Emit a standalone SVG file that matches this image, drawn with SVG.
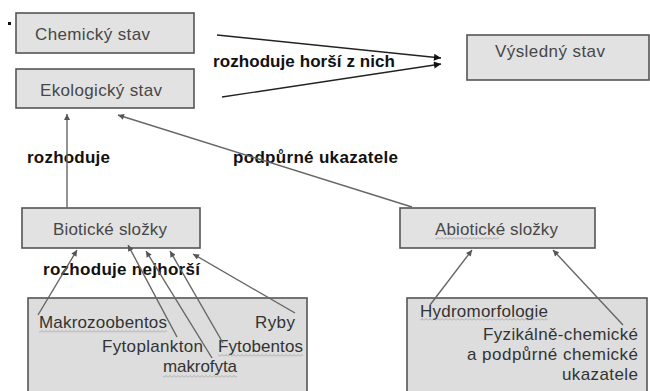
<svg xmlns="http://www.w3.org/2000/svg" width="650" height="391" viewBox="0 0 650 391">
<style>
.box{fill:#e2e2e2;stroke:#555;stroke-width:1.6}
.big{fill:#dddddd;stroke:#555;stroke-width:1.6}
.lbl{font-family:"Liberation Sans",Arial,sans-serif;font-size:17px;fill:#474747}
.txt{font-family:"Liberation Sans",Arial,sans-serif;font-size:17px;fill:#333}
.bold{font-family:"Liberation Sans",Arial,sans-serif;font-size:17px;font-weight:bold;fill:#111}
.con{stroke:#666;stroke-width:1.4;fill:none;marker-end:url(#ah)}
.dark{stroke:#222;stroke-width:1.4;fill:none;marker-end:url(#ah2)}
.sq{fill:url(#sq)}
</style>
<defs>
<marker id="ah" viewBox="0 0 10 10" refX="10" refY="5" markerWidth="8" markerHeight="6" markerUnits="userSpaceOnUse" orient="auto"><path d="M0,0 L10,5 L0,10 z" fill="#555"/></marker>
<marker id="ah2" viewBox="0 0 10 10" refX="10" refY="5" markerWidth="8" markerHeight="7" markerUnits="userSpaceOnUse" orient="auto"><path d="M0,0 L10,5 L0,10 z" fill="#111"/></marker>
<pattern id="sq" width="4" height="3" patternUnits="userSpaceOnUse"><path d="M0,2.5 L2,0.5 L4,2.5" stroke="#9a9a9a" stroke-width="0.8" fill="none"/></pattern>
</defs>
<rect x="8" y="22" width="3" height="3" fill="#111"/>
<g id="chemicky">
<rect class="box" x="16" y="13" width="178" height="40"/>
<text class="lbl" x="35" y="40" textLength="115">Chemický stav</text>
</g>
<g id="ekologicky">
<rect class="box" x="16" y="69" width="178" height="39"/>
<text class="lbl" x="40" y="96" textLength="122">Ekologický stav</text>
</g>
<g id="vysledny">
<rect class="box" x="467" y="35" width="182" height="45"/>
<text class="lbl" x="495" y="57" textLength="110">Výsledný stav</text>
</g>
<g id="bioticke">
<rect class="box" x="22" y="208" width="178" height="40"/>
<text class="lbl" x="53" y="235" textLength="114">Biotické složky</text>
</g>
<g id="abioticke">
<rect class="box" x="400" y="208" width="195" height="40"/>
<text class="lbl" x="435" y="235" textLength="123">Abiotické složky</text>
<rect class="sq" x="435" y="237" width="64" height="3"/>
</g>
<g id="labels">
<text class="bold" x="213" y="67" textLength="182">rozhoduje horší z nich</text>
<text class="bold" x="27" y="163" textLength="83">rozhoduje</text>
<text class="bold" x="233" y="163" textLength="165">podpůrné ukazatele</text>
<text class="bold" x="43" y="275" textLength="157">rozhoduje nejhorší</text>
</g>
<g id="biotic-parts">
<rect class="big" x="28" y="298" width="279" height="110"/>
<text class="txt" x="39" y="328" textLength="128">Makrozoobentos</text>
<rect class="sq" x="39" y="330" width="128" height="3"/>
<text class="txt" x="255" y="328" textLength="40">Ryby</text>
<text class="txt" x="102" y="352" textLength="101">Fytoplankton</text>
<text class="txt" x="218" y="352" textLength="85">Fytobentos</text>
<rect class="sq" x="218" y="354" width="85" height="3"/>
<text class="txt" x="163" y="372" textLength="74">makrofyta</text>
<rect class="sq" x="163" y="375" width="74" height="3"/>
</g>
<g id="abiotic-parts">
<rect class="big" x="407" y="298" width="240" height="110"/>
<text class="txt" x="420" y="317" textLength="128">Hydromorfologie</text>
<rect class="sq" x="420" y="318" width="128" height="3"/>
<text class="txt" x="483" y="340" textLength="155">Fyzikálně-chemické</text>
<text class="txt" x="467" y="360" textLength="171">a podpůrné chemické</text>
<text class="txt" x="562" y="380" textLength="76">ukazatele</text>
</g>
<g id="connectors">
<line class="dark" x1="217" y1="35" x2="441" y2="58"/>
<line class="dark" x1="222" y1="97" x2="441" y2="64"/>
<line class="con" x1="67" y1="208" x2="67" y2="114"/>
<line class="con" x1="412" y1="207" x2="118" y2="115"/>
<line class="con" x1="38" y1="315" x2="77" y2="250"/>
<line class="con" x1="177" y1="337" x2="128" y2="245"/>
<line class="con" x1="212" y1="358" x2="146" y2="251"/>
<line class="con" x1="223" y1="343" x2="170" y2="251"/>
<line class="con" x1="295" y1="313" x2="193" y2="254"/>
<line class="con" x1="430" y1="305" x2="472" y2="250"/>
<line class="con" x1="623" y1="325" x2="553" y2="250"/>
</g>
</svg>
